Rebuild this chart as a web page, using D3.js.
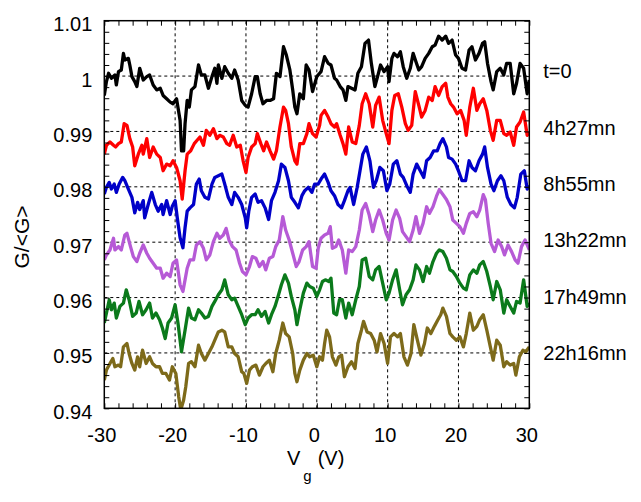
<!DOCTYPE html>
<html>
<head>
<meta charset="utf-8">
<script src="https://cdn.jsdelivr.net/npm/d3@7"></script>
<style>
  body { margin: 0; background: #fff; }
  text { font-family: Arial, "Liberation Sans", sans-serif; }
</style>
</head>
<body>
<svg id="chart"></svg>
<script>
var seriesLabels = ["t=0", "4h27mn", "8h55mn", "13h22mn", "17h49mn", "22h16mn"];
var seriesColors = ["#000000", "#ff0000", "#0000c8", "#b65ad6", "#0b7a1b", "#7d6a1a"];
var seriesLevels = [1.00, 0.99, 0.98, 0.97, 0.96, 0.95];

var xTicks = [-30, -20, -10, 0, 10, 20, 30];
var yTicks = [0.94, 0.95, 0.96, 0.97, 0.98, 0.99, 1.00, 1.01];
var yTickLabels = ["0.94", "0.95", "0.96", "0.97", "0.98", "0.99", "1", "1.01"];

// [Vg, G/<G>]
var t0 = [[-30.0,0.9965],[-29.7,0.9990],[-29.4,1.0005],[-29.0,0.9996],[-28.5,1.0002],[-28.3,0.9984],[-28.0,1.0008],[-27.6,1.0011],[-27.3,1.0041],[-27.1,1.0029],[-26.6,1.0032],[-26.4,1.0020],[-26.1,0.9999],[-25.7,0.9990],[-25.4,0.9981],[-25.0,1.0014],[-24.5,0.9993],[-24.0,0.9999],[-23.6,1.0002],[-23.1,0.9984],[-22.6,0.9975],[-22.1,0.9978],[-21.7,0.9965],[-21.2,0.9959],[-20.7,0.9953],[-20.3,0.9950],[-19.8,0.9959],[-19.3,0.9920],[-19.1,0.9865],[-18.8,0.9865],[-18.6,0.9914],[-18.3,0.9956],[-18.0,0.9944],[-17.7,0.9975],[-17.2,0.9981],[-16.7,1.0020],[-16.3,1.0002],[-15.8,1.0002],[-15.3,0.9978],[-14.8,0.9999],[-14.4,1.0014],[-14.1,0.9987],[-13.9,1.0020],[-13.4,0.9996],[-13.0,1.0017],[-12.5,1.0005],[-12.0,0.9996],[-11.6,1.0011],[-11.1,0.9993],[-10.6,0.9956],[-10.1,0.9947],[-9.7,0.9944],[-9.2,0.9968],[-8.7,0.9999],[-8.4,0.9999],[-8.0,0.9968],[-7.6,0.9950],[-7.1,0.9956],[-6.6,0.9956],[-6.1,0.9959],[-5.7,1.0005],[-5.2,0.9999],[-4.7,1.0053],[-4.3,1.0038],[-3.8,1.0011],[-3.4,0.9975],[-3.1,0.9944],[-2.8,0.9932],[-2.4,0.9968],[-1.9,0.9959],[-1.5,1.0020],[-1.1,1.0011],[-0.6,0.9972],[0.0,0.9999],[0.4,1.0005],[0.6,1.0008],[1.1,1.0035],[1.6,1.0023],[2.0,1.0020],[2.5,0.9996],[2.8,0.9993],[3.3,0.9981],[3.7,0.9975],[4.1,0.9956],[4.4,0.9981],[4.9,0.9978],[5.4,0.9975],[5.8,1.0005],[6.3,1.0017],[6.8,1.0059],[7.3,1.0065],[7.7,1.0023],[8.2,0.9981],[8.7,1.0005],[9.0,1.0020],[9.5,1.0008],[10.0,1.0017],[10.2,0.9990],[10.6,1.0032],[10.9,1.0041],[11.4,1.0035],[11.8,1.0044],[12.2,1.0017],[12.7,0.9996],[13.2,1.0014],[13.6,1.0041],[14.0,1.0026],[14.4,1.0011],[14.8,1.0017],[15.3,1.0032],[15.8,1.0041],[16.3,1.0053],[16.7,1.0056],[17.2,1.0072],[17.7,1.0065],[18.2,1.0072],[18.6,1.0059],[19.1,1.0065],[19.6,1.0038],[20.0,1.0032],[20.5,1.0014],[21.0,1.0011],[21.5,1.0047],[21.9,1.0053],[22.4,1.0029],[22.9,1.0041],[23.4,1.0059],[23.7,1.0062],[24.1,1.0023],[24.6,0.9990],[24.9,0.9975],[25.4,1.0008],[25.9,1.0014],[26.4,1.0002],[26.8,1.0023],[27.3,1.0023],[27.8,0.9968],[28.2,0.9987],[28.7,1.0023],[29.2,1.0014],[29.7,0.9968],[30.0,0.9993]];

var t4h27 = [[-30.0,0.9859],[-29.7,0.9875],[-29.2,0.9881],[-28.7,0.9875],[-28.4,0.9872],[-28.0,0.9878],[-27.6,0.9881],[-27.2,0.9914],[-26.8,0.9911],[-26.4,0.9887],[-26.0,0.9872],[-25.7,0.9838],[-25.2,0.9859],[-24.7,0.9875],[-24.5,0.9859],[-24.0,0.9887],[-23.6,0.9853],[-23.1,0.9872],[-22.6,0.9859],[-22.1,0.9853],[-21.7,0.9829],[-21.2,0.9841],[-20.7,0.9838],[-20.3,0.9847],[-19.8,0.9835],[-19.3,0.9811],[-19.0,0.9778],[-18.6,0.9829],[-18.3,0.9859],[-17.8,0.9865],[-17.3,0.9878],[-16.9,0.9884],[-16.5,0.9890],[-16.0,0.9875],[-15.6,0.9902],[-15.1,0.9893],[-14.6,0.9905],[-14.1,0.9887],[-13.7,0.9893],[-13.2,0.9890],[-12.7,0.9878],[-12.3,0.9875],[-11.8,0.9893],[-11.3,0.9872],[-10.8,0.9875],[-10.4,0.9847],[-10.0,0.9826],[-9.7,0.9853],[-9.2,0.9872],[-8.7,0.9878],[-8.4,0.9896],[-7.9,0.9878],[-7.5,0.9865],[-7.1,0.9881],[-6.6,0.9865],[-6.1,0.9850],[-5.7,0.9865],[-5.2,0.9908],[-4.7,0.9944],[-4.4,0.9938],[-4.0,0.9914],[-3.6,0.9872],[-3.1,0.9847],[-2.8,0.9841],[-2.4,0.9878],[-1.9,0.9878],[-1.4,0.9896],[-1.1,0.9914],[-0.6,0.9896],[-0.1,0.9890],[0.4,0.9911],[0.6,0.9929],[1.1,0.9938],[1.6,0.9926],[2.0,0.9914],[2.5,0.9908],[2.8,0.9914],[3.3,0.9893],[3.7,0.9878],[4.1,0.9859],[4.5,0.9908],[5.0,0.9881],[5.5,0.9878],[6.0,0.9911],[6.4,0.9950],[6.9,0.9968],[7.4,0.9950],[7.9,0.9908],[8.3,0.9947],[8.8,0.9962],[9.3,0.9920],[9.8,0.9896],[10.2,0.9878],[10.6,0.9938],[11.0,0.9965],[11.5,0.9968],[12.0,0.9944],[12.5,0.9914],[12.9,0.9902],[13.4,0.9911],[13.9,0.9972],[14.4,0.9947],[14.8,0.9926],[15.3,0.9938],[15.8,0.9962],[16.3,0.9956],[16.7,0.9981],[17.2,0.9965],[17.7,0.9981],[18.2,0.9987],[18.5,0.9962],[18.9,0.9950],[19.3,0.9944],[19.8,0.9932],[20.3,0.9938],[20.8,0.9920],[21.1,0.9893],[21.6,0.9944],[22.1,0.9978],[22.6,0.9938],[23.0,0.9950],[23.5,0.9959],[24.0,0.9938],[24.5,0.9902],[24.9,0.9884],[25.4,0.9920],[25.9,0.9920],[26.4,0.9896],[26.8,0.9893],[27.3,0.9899],[27.8,0.9875],[28.2,0.9908],[28.7,0.9917],[29.2,0.9935],[29.7,0.9893],[30.0,0.9899]];

var t8h55 = [[-30.0,0.9787],[-29.7,0.9799],[-29.3,0.9808],[-29.0,0.9796],[-28.6,0.9805],[-28.3,0.9790],[-27.9,0.9805],[-27.4,0.9817],[-27.1,0.9811],[-26.6,0.9796],[-26.1,0.9781],[-25.7,0.9753],[-25.3,0.9772],[-25.0,0.9759],[-24.5,0.9775],[-24.3,0.9744],[-23.8,0.9768],[-23.3,0.9790],[-22.8,0.9768],[-22.4,0.9756],[-21.9,0.9768],[-21.7,0.9750],[-21.2,0.9775],[-20.7,0.9750],[-20.4,0.9765],[-20.0,0.9775],[-19.7,0.9744],[-19.3,0.9708],[-18.9,0.9690],[-18.6,0.9726],[-18.3,0.9756],[-17.9,0.9762],[-17.4,0.9768],[-17.0,0.9805],[-16.6,0.9814],[-16.3,0.9793],[-15.8,0.9781],[-15.3,0.9778],[-14.8,0.9805],[-14.4,0.9817],[-13.9,0.9820],[-13.4,0.9823],[-13.0,0.9805],[-12.5,0.9781],[-12.0,0.9768],[-11.6,0.9790],[-11.1,0.9781],[-10.6,0.9768],[-10.1,0.9744],[-9.9,0.9726],[-9.6,0.9756],[-9.2,0.9781],[-8.7,0.9787],[-8.3,0.9772],[-7.8,0.9775],[-7.3,0.9762],[-6.8,0.9741],[-6.4,0.9775],[-5.9,0.9790],[-5.4,0.9811],[-5.0,0.9841],[-4.5,0.9835],[-4.0,0.9811],[-3.6,0.9781],[-3.1,0.9772],[-2.6,0.9762],[-2.1,0.9784],[-1.7,0.9793],[-1.2,0.9799],[-0.7,0.9790],[-0.3,0.9805],[0.2,0.9805],[0.6,0.9814],[1.1,0.9823],[1.6,0.9808],[2.0,0.9793],[2.5,0.9784],[3.0,0.9768],[3.5,0.9762],[3.9,0.9775],[4.4,0.9793],[4.7,0.9799],[5.2,0.9768],[5.7,0.9799],[6.1,0.9829],[6.5,0.9859],[7.0,0.9872],[7.5,0.9847],[8.0,0.9799],[8.4,0.9811],[8.9,0.9835],[9.4,0.9829],[9.9,0.9793],[10.3,0.9805],[10.8,0.9841],[11.3,0.9847],[11.8,0.9823],[12.2,0.9817],[12.7,0.9802],[13.2,0.9790],[13.6,0.9823],[14.1,0.9841],[14.6,0.9829],[15.1,0.9817],[15.5,0.9847],[16.0,0.9853],[16.5,0.9865],[17.0,0.9865],[17.4,0.9878],[17.8,0.9887],[18.3,0.9872],[18.6,0.9853],[19.1,0.9850],[19.6,0.9841],[20.0,0.9829],[20.5,0.9811],[21.0,0.9811],[21.5,0.9847],[21.9,0.9835],[22.4,0.9829],[22.9,0.9847],[23.4,0.9859],[23.7,0.9872],[24.1,0.9835],[24.6,0.9805],[25.0,0.9793],[25.5,0.9811],[26.0,0.9820],[26.4,0.9811],[26.9,0.9781],[27.4,0.9768],[27.9,0.9762],[28.3,0.9781],[28.8,0.9823],[29.3,0.9829],[29.7,0.9796],[30.0,0.9802]];

var t13h22 = [[-30.0,0.9668],[-29.7,0.9677],[-29.2,0.9686],[-28.7,0.9707],[-28.5,0.9686],[-28.0,0.9692],[-27.6,0.9686],[-27.1,0.9713],[-26.8,0.9716],[-26.3,0.9692],[-25.9,0.9674],[-25.4,0.9665],[-25.0,0.9680],[-24.5,0.9695],[-24.0,0.9680],[-23.6,0.9671],[-23.1,0.9662],[-22.6,0.9653],[-22.1,0.9653],[-21.7,0.9635],[-21.2,0.9644],[-20.7,0.9638],[-20.3,0.9662],[-19.8,0.9668],[-19.3,0.9623],[-18.9,0.9611],[-18.6,0.9632],[-18.3,0.9653],[-17.9,0.9668],[-17.4,0.9668],[-17.0,0.9695],[-16.5,0.9701],[-16.0,0.9689],[-15.6,0.9668],[-15.1,0.9677],[-14.6,0.9701],[-14.1,0.9716],[-13.7,0.9707],[-13.2,0.9713],[-12.8,0.9725],[-12.4,0.9704],[-11.9,0.9692],[-11.4,0.9686],[-10.9,0.9662],[-10.5,0.9647],[-10.0,0.9641],[-9.5,0.9656],[-9.1,0.9674],[-8.6,0.9671],[-8.1,0.9656],[-7.6,0.9665],[-7.2,0.9650],[-6.7,0.9671],[-6.2,0.9674],[-5.8,0.9692],[-5.3,0.9704],[-4.8,0.9746],[-4.4,0.9722],[-3.9,0.9704],[-3.4,0.9680],[-2.9,0.9656],[-2.5,0.9665],[-2.0,0.9686],[-1.5,0.9692],[-1.1,0.9701],[-0.6,0.9656],[-0.1,0.9653],[0.2,0.9689],[0.6,0.9707],[1.1,0.9713],[1.6,0.9716],[1.9,0.9728],[2.2,0.9689],[2.7,0.9692],[3.1,0.9704],[3.6,0.9686],[4.1,0.9644],[4.5,0.9686],[5.0,0.9683],[5.5,0.9692],[6.0,0.9722],[6.4,0.9758],[6.9,0.9770],[7.4,0.9749],[7.9,0.9719],[8.3,0.9740],[8.8,0.9758],[9.3,0.9740],[9.8,0.9716],[10.2,0.9704],[10.7,0.9740],[11.2,0.9758],[11.7,0.9743],[12.1,0.9719],[12.6,0.9710],[13.1,0.9701],[13.6,0.9722],[14.0,0.9746],[14.5,0.9716],[15.0,0.9734],[15.5,0.9764],[15.9,0.9752],[16.4,0.9764],[16.9,0.9783],[17.3,0.9795],[17.8,0.9786],[18.3,0.9777],[18.8,0.9764],[19.2,0.9740],[19.7,0.9734],[20.2,0.9728],[20.7,0.9716],[21.1,0.9734],[21.6,0.9752],[22.1,0.9755],[22.6,0.9746],[23.0,0.9758],[23.5,0.9786],[23.8,0.9777],[24.2,0.9734],[24.6,0.9698],[25.1,0.9683],[25.6,0.9704],[26.1,0.9692],[26.5,0.9677],[27.0,0.9695],[27.5,0.9683],[28.0,0.9668],[28.4,0.9662],[28.9,0.9692],[29.4,0.9704],[30.0,0.9686]];

var t17h49 = [[-30.0,0.9554],[-29.7,0.9572],[-29.3,0.9596],[-29.0,0.9578],[-28.6,0.9590],[-28.3,0.9563],[-27.8,0.9584],[-27.3,0.9590],[-26.9,0.9614],[-26.5,0.9596],[-26.0,0.9566],[-25.5,0.9572],[-25.1,0.9593],[-24.6,0.9569],[-24.1,0.9578],[-23.6,0.9590],[-23.2,0.9563],[-22.7,0.9572],[-22.2,0.9560],[-21.8,0.9545],[-21.4,0.9526],[-21.0,0.9554],[-20.5,0.9563],[-20.0,0.9587],[-19.6,0.9554],[-19.1,0.9502],[-18.6,0.9541],[-18.1,0.9581],[-17.7,0.9563],[-17.2,0.9560],[-16.7,0.9578],[-16.3,0.9572],[-15.8,0.9563],[-15.3,0.9566],[-14.8,0.9584],[-14.4,0.9593],[-13.9,0.9605],[-13.4,0.9614],[-13.0,0.9632],[-12.5,0.9605],[-12.0,0.9596],[-11.6,0.9599],[-11.1,0.9584],[-10.6,0.9569],[-10.1,0.9551],[-9.7,0.9563],[-9.2,0.9569],[-8.7,0.9569],[-8.3,0.9578],[-7.8,0.9566],[-7.3,0.9575],[-6.8,0.9554],[-6.4,0.9569],[-5.9,0.9584],[-5.4,0.9605],[-5.0,0.9623],[-4.5,0.9641],[-4.0,0.9626],[-3.6,0.9602],[-3.1,0.9578],[-2.8,0.9551],[-2.4,0.9578],[-1.9,0.9608],[-1.4,0.9626],[-1.0,0.9620],[-0.5,0.9617],[0.0,0.9602],[0.4,0.9614],[0.8,0.9629],[1.2,0.9632],[1.7,0.9629],[2.0,0.9635],[2.4,0.9572],[2.8,0.9569],[3.2,0.9596],[3.6,0.9596],[4.1,0.9563],[4.5,0.9590],[5.0,0.9569],[5.5,0.9596],[6.0,0.9620],[6.4,0.9668],[6.9,0.9671],[7.4,0.9638],[7.9,0.9632],[8.3,0.9650],[8.8,0.9656],[9.3,0.9626],[9.8,0.9596],[10.2,0.9608],[10.7,0.9632],[11.2,0.9650],[11.7,0.9614],[12.1,0.9587],[12.6,0.9605],[13.1,0.9614],[13.6,0.9632],[14.0,0.9659],[14.5,0.9650],[15.0,0.9629],[15.5,0.9656],[15.9,0.9644],[16.4,0.9665],[16.9,0.9680],[17.3,0.9686],[17.8,0.9683],[18.3,0.9671],[18.8,0.9650],[19.2,0.9647],[19.7,0.9638],[20.2,0.9626],[20.7,0.9617],[21.1,0.9614],[21.6,0.9641],[22.1,0.9650],[22.6,0.9644],[23.0,0.9659],[23.5,0.9665],[24.0,0.9647],[24.5,0.9620],[24.9,0.9596],[25.4,0.9629],[25.9,0.9614],[26.4,0.9572],[26.8,0.9596],[27.3,0.9584],[27.8,0.9572],[28.2,0.9593],[28.7,0.9590],[29.2,0.9632],[29.7,0.9584],[30.0,0.9590]];

var t22h16 = [[-30.0,0.9451],[-29.7,0.9469],[-29.2,0.9481],[-28.8,0.9490],[-28.5,0.9475],[-28.0,0.9478],[-27.7,0.9475],[-27.3,0.9511],[-26.8,0.9517],[-26.5,0.9499],[-26.1,0.9481],[-25.7,0.9469],[-25.3,0.9493],[-25.0,0.9475],[-24.6,0.9505],[-24.1,0.9481],[-23.6,0.9493],[-23.2,0.9481],[-22.7,0.9475],[-22.2,0.9475],[-21.8,0.9463],[-21.3,0.9463],[-20.8,0.9451],[-20.4,0.9475],[-19.9,0.9463],[-19.5,0.9421],[-19.2,0.9397],[-18.8,0.9415],[-18.5,0.9439],[-18.1,0.9481],[-17.7,0.9484],[-17.2,0.9475],[-16.7,0.9514],[-16.3,0.9499],[-15.8,0.9487],[-15.3,0.9499],[-14.8,0.9511],[-14.4,0.9523],[-13.9,0.9538],[-13.4,0.9541],[-13.0,0.9538],[-12.5,0.9511],[-12.0,0.9511],[-11.6,0.9499],[-11.1,0.9493],[-10.6,0.9466],[-10.3,0.9463],[-9.9,0.9445],[-9.5,0.9469],[-9.1,0.9475],[-8.6,0.9478],[-8.1,0.9460],[-7.6,0.9475],[-7.2,0.9481],[-6.7,0.9487],[-6.2,0.9466],[-5.8,0.9499],[-5.3,0.9523],[-4.8,0.9554],[-4.4,0.9535],[-3.9,0.9529],[-3.4,0.9499],[-3.1,0.9463],[-2.8,0.9448],[-2.4,0.9469],[-1.9,0.9487],[-1.4,0.9499],[-1.0,0.9493],[-0.5,0.9496],[0.0,0.9475],[0.4,0.9493],[0.8,0.9487],[1.1,0.9517],[1.4,0.9541],[1.8,0.9529],[2.2,0.9493],[2.7,0.9478],[3.1,0.9493],[3.5,0.9496],[3.9,0.9457],[4.4,0.9475],[4.9,0.9484],[5.4,0.9472],[5.8,0.9517],[6.3,0.9541],[6.6,0.9557],[7.1,0.9538],[7.6,0.9535],[8.1,0.9523],[8.5,0.9502],[9.0,0.9535],[9.5,0.9517],[10.0,0.9481],[10.4,0.9529],[10.9,0.9535],[11.4,0.9529],[11.8,0.9535],[12.3,0.9493],[12.8,0.9478],[13.3,0.9499],[13.7,0.9551],[14.2,0.9523],[14.7,0.9496],[15.2,0.9517],[15.6,0.9545],[16.1,0.9535],[16.6,0.9548],[17.1,0.9560],[17.5,0.9569],[17.8,0.9581],[18.3,0.9566],[18.8,0.9535],[19.2,0.9529],[19.7,0.9523],[20.2,0.9529],[20.7,0.9511],[21.1,0.9535],[21.6,0.9572],[22.1,0.9541],[22.6,0.9548],[23.0,0.9560],[23.5,0.9569],[24.0,0.9541],[24.5,0.9511],[24.9,0.9487],[25.4,0.9523],[25.9,0.9514],[26.4,0.9475],[26.8,0.9484],[27.3,0.9478],[27.8,0.9481],[28.1,0.9460],[28.6,0.9493],[29.1,0.9505],[29.5,0.9502],[30.0,0.9511]];

var seriesData = [t0, t4h27, t8h55, t13h22, t17h49, t22h16];

var width = 641, height = 502;
var margin = { top: 20.7, right: 111.7, bottom: 93.7, left: 104.3 };

var svg = d3.select("#chart")
            .attr("width", width)
            .attr("height", height);

var x = d3.scaleLinear()
          .domain([-30, 30])
          .range([margin.left, width - margin.right]);

var y = d3.scaleLinear()
          .domain([0.94, 1.01])
          .range([height - margin.bottom, margin.top]);

svg.append("defs")
  .append("clipPath")
    .attr("id", "plot-clip")
  .append("rect")
    .attr("x", x(-30))
    .attr("y", y(1.01))
    .attr("width", x(30) - x(-30))
    .attr("height", y(0.94) - y(1.01));

// dashed grid at the inner major ticks
svg.append("g")
    .selectAll("line")
    .data(xTicks.slice(1, -1))
    .enter()
    .append("line")
      .attr("x1", d => x(d))
      .attr("x2", d => x(d))
      .attr("y1", y(0.94))
      .attr("y2", y(1.01))
      .attr("stroke", "#000")
      .attr("stroke-width", 1)
      .attr("stroke-dasharray", "3,3");

svg.append("g")
    .selectAll("line")
    .data(yTicks.slice(1, -1))
    .enter()
    .append("line")
      .attr("x1", x(-30))
      .attr("x2", x(30))
      .attr("y1", d => y(d))
      .attr("y2", d => y(d))
      .attr("stroke", "#000")
      .attr("stroke-width", 1)
      .attr("stroke-dasharray", "3,3");

var line = d3.line()
             .x(d => x(d[0]))
             .y(d => y(d[1]));

svg.append("g")
    .attr("clip-path", "url(#plot-clip)")
    .selectAll("path")
    .data(seriesData)
    .enter()
    .append("path")
      .attr("fill", "none")
      .attr("stroke", (d, i) => seriesColors[i])
      .attr("stroke-width", 3.3)
      .attr("stroke-linejoin", "round")
      .attr("d", line);

// inward ticks on all four sides
var xMinor = d3.range(-30, 30.01, 2);
var yMinor = d3.range(0, 36).map(i => 0.94 + i * 0.002);

function tickAxis(axis, values, translate) {
  var g = svg.append("g")
      .attr("transform", translate)
      .call(axis.tickValues(values).tickSizeInner(-5).tickSizeOuter(0).tickFormat(""));
  g.select(".domain").remove();
  g.selectAll("line").attr("stroke-width", 1);
}

tickAxis(d3.axisBottom(x), xMinor, "translate(0," + y(0.94) + ")");
tickAxis(d3.axisTop(x), xMinor, "translate(0," + y(1.01) + ")");
tickAxis(d3.axisLeft(y), yMinor, "translate(" + x(-30) + ",0)");
tickAxis(d3.axisRight(y), yMinor, "translate(" + x(30) + ",0)");

// tick labels
var xAxis = svg.append("g")
    .attr("transform", "translate(0," + y(0.94) + ")")
    .call(d3.axisBottom(x)
            .tickValues(xTicks)
            .tickSize(0)
            .tickPadding(19.5)
            .tickFormat(d => String(d)));
xAxis.select(".domain").remove();
xAxis.selectAll("text")
    .attr("font-size", 20)
    .attr("font-family", "Arial, 'Liberation Sans', sans-serif")
    .attr("fill", "#000")
    .attr("dx", -3);

var yAxis = svg.append("g")
    .attr("transform", "translate(" + x(-30) + ",0)")
    .call(d3.axisLeft(y)
            .tickValues(yTicks)
            .tickSize(0)
            .tickPadding(12)
            .tickFormat((d, i) => yTickLabels[i]));
yAxis.select(".domain").remove();
yAxis.selectAll("text")
    .attr("font-size", 20)
    .attr("font-family", "Arial, 'Liberation Sans', sans-serif")
    .attr("fill", "#000")
    .attr("dy", "0.5em");

// frame
svg.append("rect")
    .attr("x", x(-30))
    .attr("y", y(1.01))
    .attr("width", x(30) - x(-30))
    .attr("height", y(0.94) - y(1.01))
    .attr("fill", "none")
    .attr("stroke", "#000")
    .attr("stroke-width", 1.5);

// series labels on the right
svg.append("g")
    .selectAll("text")
    .data(seriesLabels)
    .enter()
    .append("text")
      .attr("x", x(30) + 14)
      .attr("y", (d, i) => y(seriesLevels[i]) + 2 + i * 1.1)
      .attr("font-size", 20)
      .text(d => d);

// axis titles
svg.append("text")
    .attr("transform", "translate(29," + 237 + ") rotate(-90)")
    .attr("font-size", 21)
    .style("text-anchor", "middle")
    .text("G/<G>");

var xTitle = svg.append("text")
    .attr("x", 287)
    .attr("y", 465)
    .attr("font-size", 20)
    .text("V");
xTitle.append("tspan")
    .attr("dx", 3)
    .attr("dy", 16)
    .attr("font-size", 15)
    .text("g");
xTitle.append("tspan")
    .attr("dx", 6)
    .attr("dy", -16)
    .text("(V)");
</script>
</body>
</html>
